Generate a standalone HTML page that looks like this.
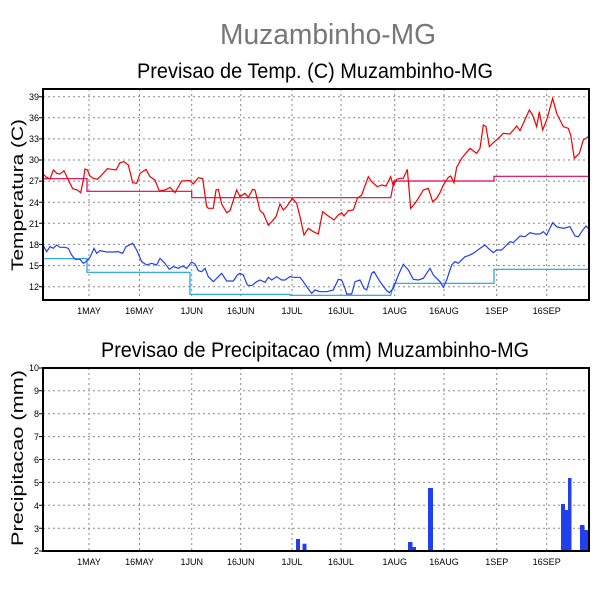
<!DOCTYPE html>
<html><head><style>body{margin:0;background:#fff}svg{display:block}text{font-family:"Liberation Sans",sans-serif}</style></head><body>
<svg width="600" height="600" viewBox="0 0 600 600" xmlns="http://www.w3.org/2000/svg">
<rect width="600" height="600" fill="#fff"/>
<text x="328" y="44" font-size="29" fill="#777" text-anchor="middle" textLength="216" lengthAdjust="spacingAndGlyphs">Muzambinho-MG</text>
<text x="315" y="78" font-size="21" fill="#000" text-anchor="middle" textLength="356" lengthAdjust="spacingAndGlyphs">Previsao de Temp. (C) Muzambinho-MG</text>
<text x="315" y="357" font-size="21" fill="#000" text-anchor="middle" textLength="428" lengthAdjust="spacingAndGlyphs">Previsao de Precipitacao (mm) Muzambinho-MG</text>
<text transform="translate(23,195) rotate(-90)" font-size="17" text-anchor="middle" textLength="152" lengthAdjust="spacingAndGlyphs">Temperatura (C)</text>
<text transform="translate(23,458) rotate(-90)" font-size="17" text-anchor="middle" textLength="176" lengthAdjust="spacingAndGlyphs">Precipitacao (mm)</text>
<g stroke="#888" stroke-width="1" stroke-dasharray="2,3" fill="none">
<path d="M89 89V300M139.5 89V300M191.7 89V300M240.7 89V300M292 89V300M341 89V300M394.7 89V300M444 89V300M496.7 89V300M546.7 89V300"/>
<path d="M43 96.7H589M43 117.8H589M43 138.9H589M43 160H589M43 181.1H589M43 202.2H589M43 223.3H589M43 244.4H589M43 265.6H589M43 286.7H589"/>
<path d="M89 368V551M139.5 368V551M191.7 368V551M240.7 368V551M292 368V551M341 368V551M394.7 368V551M444 368V551M496.7 368V551M546.7 368V551"/>
<path d="M43 390.8H589M43 413.7H589M43 436.6H589M43 459.5H589M43 482.4H589M43 505.3H589M43 528.2H589"/>
</g>
<g font-size="9" text-anchor="end">
<text x="39" y="100">39</text><text x="39" y="121">36</text><text x="39" y="142">33</text><text x="39" y="163">30</text><text x="39" y="184">27</text><text x="39" y="206">24</text><text x="39" y="227">21</text><text x="39" y="248">18</text><text x="39" y="269">15</text><text x="39" y="290">12</text>
<text x="39" y="371">10</text><text x="39" y="394">9</text><text x="39" y="417">8</text><text x="39" y="440">7</text><text x="39" y="463">6</text><text x="39" y="486">5</text><text x="39" y="509">4</text><text x="39" y="532">3</text><text x="39" y="554">2</text>
</g>
<g font-size="9" text-anchor="middle">
<text x="89" y="314">1MAY</text><text x="139.5" y="314">16MAY</text><text x="191.7" y="314">1JUN</text><text x="240.7" y="314">16JUN</text><text x="292" y="314">1JUL</text><text x="341" y="314">16JUL</text><text x="394.7" y="314">1AUG</text><text x="444" y="314">16AUG</text><text x="496.7" y="314">1SEP</text><text x="546.7" y="314">16SEP</text>
<text x="89" y="565">1MAY</text><text x="139.5" y="565">16MAY</text><text x="191.7" y="565">1JUN</text><text x="240.7" y="565">16JUN</text><text x="292" y="565">1JUL</text><text x="341" y="565">16JUL</text><text x="394.7" y="565">1AUG</text><text x="444" y="565">16AUG</text><text x="496.7" y="565">1SEP</text><text x="546.7" y="565">16SEP</text>
</g>
<g fill="none" stroke-width="1.2">
<path stroke="#e0005a" d="M43 178.7H87V191.3H191.7V197.7H390.7L394 181H494V176.3H589"/>
<path stroke="#1aa0e0" d="M43 258.7H87V272.3H190V294.3H290V295.3H390.7L394 283.3H494V269.3H589"/>
</g>
<g transform="translate(0 80) scale(0.33333)" fill="none" stroke-width="3.6">
<polyline stroke="#f00000" points="130,283 140,292 150,297 160,270 170,280 180,282 192,272 205,300 218,326 232,330 242,338 250,300 255,267 262,270 270,288 280,295 292,298 305,285 322,266 335,268 348,270 360,248 372,245 385,255 398,308 410,310 420,280 438,268 450,290 465,300 478,333 495,330 510,322 525,338 545,303 570,302 580,312 595,293 608,296 620,380 625,385 640,385 648,330 655,328 665,372 680,398 690,392 710,330 720,350 735,340 745,352 758,328 765,330 780,392 790,400 805,436 815,425 828,410 840,372 850,390 860,380 877,355 890,370 900,410 912,465 925,445 940,455 955,462 968,395 985,408 1002,420 1015,405 1025,398 1032,408 1045,392 1060,390 1072,355 1085,345 1105,290 1115,305 1132,320 1145,315 1158,318 1172,290 1180,318 1190,298 1200,295 1210,295 1222,268 1232,385 1245,370 1255,355 1270,330 1285,325 1298,365 1310,355 1320,338 1330,315 1345,292 1352,288 1362,308 1370,262 1385,235 1410,205 1430,220 1440,205 1450,135 1458,140 1468,200 1480,188 1495,175 1510,160 1530,162 1550,138 1560,152 1588,90 1598,105 1610,140 1618,95 1628,150 1640,120 1658,55 1670,100 1690,140 1705,145 1712,165 1723,235 1738,220 1750,180 1765,170"/>
<polyline stroke="#2040f0" points="130,497 140,515 150,500 160,505 170,495 180,502 195,502 205,505 215,525 225,538 240,538 250,550 258,545 270,532 282,505 290,520 300,512 320,516 340,516 355,515 368,520 378,500 388,495 398,490 410,510 425,545 440,555 455,550 470,555 480,535 495,550 508,568 520,560 535,565 548,558 560,565 575,546 585,552 595,572 605,575 615,565 625,590 640,605 655,590 665,580 680,603 700,603 712,585 720,580 730,585 742,615 755,617 770,605 780,600 795,607 805,592 815,600 830,590 845,600 855,600 870,590 880,592 900,592 910,605 920,620 935,640 945,630 960,635 980,635 1000,630 1015,598 1025,600 1035,625 1040,642 1055,642 1065,605 1080,600 1092,625 1100,630 1115,580 1122,575 1140,605 1160,632 1168,638 1180,625 1195,585 1210,553 1225,570 1240,598 1255,600 1270,595 1290,565 1300,585 1320,605 1330,622 1340,600 1355,555 1365,545 1375,550 1395,530 1405,527 1420,520 1440,505 1455,495 1465,505 1480,518 1490,510 1505,510 1520,495 1530,485 1540,488 1560,468 1575,470 1590,458 1605,462 1620,462 1630,455 1640,465 1658,428 1670,440 1690,445 1710,440 1725,468 1735,470 1750,448 1758,438 1765,445"/>
</g>
<g fill="#2040f0">
<rect x="296" y="539" width="4" height="12"/><rect x="302.5" y="543.7" width="4" height="7"/>
<rect x="408" y="542" width="4.5" height="9"/><rect x="412.5" y="547" width="3.5" height="4"/>
<rect x="428" y="488" width="5" height="63"/>
<rect x="561" y="504" width="4" height="47"/><rect x="565" y="510" width="3" height="41"/><rect x="568" y="478" width="3.5" height="73"/>
<rect x="580" y="525" width="4.5" height="26"/><rect x="584.5" y="530" width="4.5" height="21"/>
</g>
<g fill="none" stroke="#000" stroke-width="2">
<rect x="43" y="89" width="546" height="211"/>
<rect x="43" y="368" width="546" height="183"/>
</g>
<g stroke="#000" stroke-width="1">
<path d="M39 96.7h4M39 117.8h4M39 138.9h4M39 160h4M39 181.1h4M39 202.2h4M39 223.3h4M39 244.4h4M39 265.6h4M39 286.7h4"/>
<path d="M39 368h4M39 390.8h4M39 413.7h4M39 436.6h4M39 459.5h4M39 482.4h4M39 505.3h4M39 528.2h4M39 551h4"/>
</g>
</svg>
</body></html>
